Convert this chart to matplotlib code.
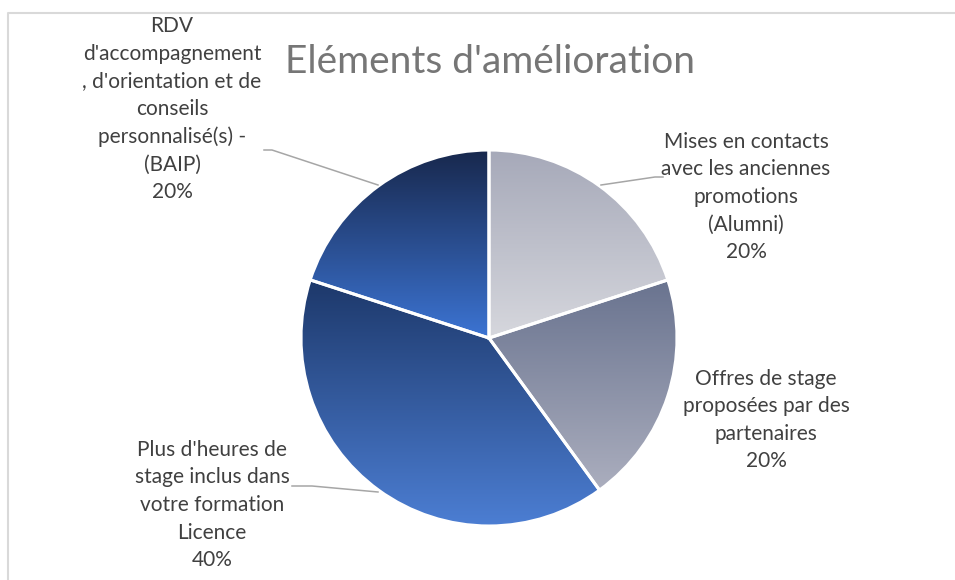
import numpy as np
import matplotlib
matplotlib.use('Agg')
import matplotlib.pyplot as plt
from matplotlib.colors import LinearSegmentedColormap

W, H = 955, 580

# pie data
categories = ["Mises en contacts\navec les anciennes\npromotions\n(Alumni)",
              "Offres de stage\nproposées par des\npartenaires",
              "Plus d'heures de\nstage inclus dans\nvotre formation\nLicence",
              "RDV\nd'accompagnement\n, d'orientation et de\nconseils\npersonnalisé(s) -\n(BAIP)"]
values = [20, 20, 40, 20]
title = "Eléments d'amélioration"

# gradient colours per slice, top -> bottom
grad_top = ['#a6a9b9', '#69738f', '#1d386a', '#18284d']
grad_bottom = ['#d6d7dd', '#abaebe', '#4c7ed3', '#3c74d3']

plt.rcParams['font.family'] = ['Lato', 'DejaVu Sans']

fig = plt.figure(figsize=(W / 100, H / 100), dpi=100)
ax = fig.add_axes([0, 0, 1, 1])


def py(y):
    # pixel rows count downward
    return H - y


cx, cy, r = 489, py(338), 188
wedges, _ = ax.pie(values, radius=r, center=(cx, cy), startangle=90, counterclock=False)

for w, top, bot in zip(wedges, grad_top, grad_bottom):
    ext = w.get_path().get_extents()
    cmap = LinearSegmentedColormap.from_list('g', [top, bot])
    grad = np.linspace(0, 1, 256).reshape(-1, 1)
    im = ax.imshow(grad, cmap=cmap, extent=(ext.x0, ext.x1, ext.y0, ext.y1),
                   origin='upper', aspect='auto', zorder=1, interpolation='bilinear')
    im.set_clip_path(w)
    w.set_facecolor('none')
    w.set_edgecolor('white')
    w.set_linewidth(2.2)
    w.set_zorder(2)

pcts = ['{:.0f}%'.format(v / sum(values) * 100) for v in values]

txt = dict(ha='center', va='center', ma='center', color='#404040', fontsize=15, linespacing=1.47)
label_pos = [(746, 197), (766, 420), (212, 505), (172, 109)]
for cat, pct, (x, y) in zip(categories, pcts, label_pos):
    ax.text(x, py(y), cat + '\n' + pct, **txt)

# leader lines
leaders = [([601, 655, 663], [185, 177, 177]),
           ([264, 272, 378], [150, 150, 185]),
           ([292, 312, 378], [486, 486, 492])]
for xs, ys in leaders:
    ax.plot(xs, [py(v) for v in ys], color='#a6a6a6', lw=1.1, zorder=3)

ax.text(490, py(62), title, ha='center', va='center', fontsize=28,
        color='#767676')

# chart frame
ax.plot([8, 8, W], [0, py(13), py(13)], color='#d9d9d9', lw=1.5, zorder=0)

ax.set_xlim(0, W)
ax.set_ylim(0, H)
ax.set_aspect('equal')
ax.axis('off')

fig.savefig('out.png', dpi=100)
